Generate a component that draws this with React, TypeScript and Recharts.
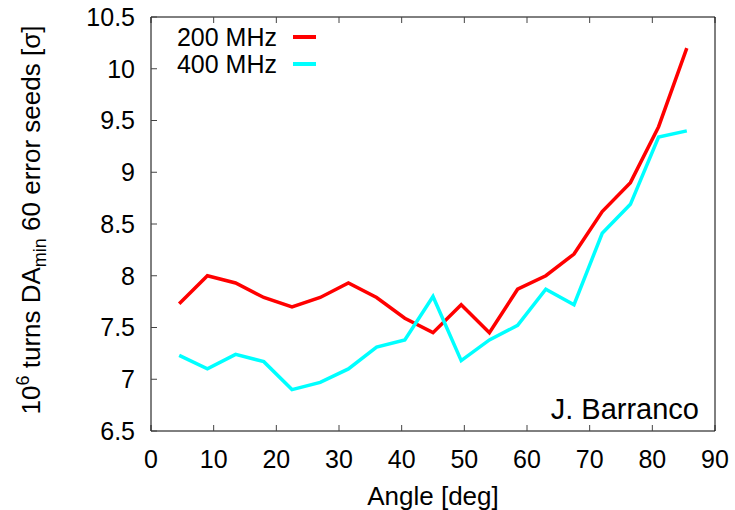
import { LineChart, Line, XAxis, YAxis } from 'recharts';

// angle of the scan [deg]
const angles = [4.5, 9, 13.5, 18, 22.5, 27, 31.5, 36, 40.5, 45, 49.5, 54, 58.5, 63, 67.5, 72, 76.5, 81, 85.5];
// minimum DA over 60 error seeds [sigma]
const da200 = [7.73, 8.0, 7.93, 7.79, 7.7, 7.79, 7.93, 7.79, 7.59, 7.45, 7.72, 7.45, 7.87, 8.0, 8.21, 8.62, 8.9, 9.44, 10.2];
const da400 = [7.23, 7.1, 7.24, 7.17, 6.9, 6.97, 7.1, 7.31, 7.38, 7.8, 7.18, 7.38, 7.52, 7.87, 7.72, 8.41, 8.69, 9.34, 9.4];

const xTicks = [0, 10, 20, 30, 40, 50, 60, 70, 80, 90];
const yTicks = [6.5, 7, 7.5, 8, 8.5, 9, 9.5, 10, 10.5];

const SERIES = [
  { key: 'mhz200', name: '200 MHz', color: '#ff0000' },
  { key: 'mhz400', name: '400 MHz', color: '#00ffff' },
];

const data = angles.map((angle, i) => ({ angle, mhz200: da200[i], mhz400: da400[i] }));

const FONT = '"Liberation Sans", Arial, Helvetica, sans-serif';
const tickStyle = { fontSize: 25, fontFamily: FONT, fill: '#000' };

function YLabel({ viewBox }: any) {
  const cy = viewBox.y + viewBox.height / 2 - 4;
  return (
    <text
      transform={`translate(40,${cy}) rotate(-90)`}
      textAnchor="middle"
      fontSize={26}
      fontFamily={FONT}
      fill="#000"
    >
      <tspan>10</tspan>
      <tspan dy={-11} fontSize={18}>6</tspan>
      <tspan dy={11}> turns DA</tspan>
      <tspan dy={6} fontSize={18}>min</tspan>
      <tspan dy={-6}> 60 error seeds [σ]</tspan>
    </text>
  );
}

function XLabel({ viewBox }: any) {
  return (
    <text
      x={viewBox.x + viewBox.width / 2}
      y={viewBox.y + 74}
      textAnchor="middle"
      fontSize={26}
      fontFamily={FONT}
      fill="#000"
    >
      Angle [deg]
    </text>
  );
}

export default function App() {
  return (
    <div style={{ position: 'absolute', left: 0, top: 0, width: 735, height: 510, background: '#fff' }}>
      <LineChart width={735} height={510} data={data} margin={{ top: 16, right: 19, bottom: 39, left: 71 }}>
        <XAxis
          dataKey="angle"
          type="number"
          domain={[0, 90]}
          ticks={xTicks}
          interval={0}
          tickSize={-6}
          tickMargin={25}
          height={40}
          tick={tickStyle}
          axisLine={{ stroke: '#000', strokeWidth: 1 }}
          tickLine={{ stroke: '#444', strokeWidth: 1 }}
          label={<XLabel />}
        />
        <XAxis
          xAxisId="top"
          orientation="top"
          dataKey="angle"
          type="number"
          domain={[0, 90]}
          ticks={xTicks}
          interval={0}
          tickSize={-6}
          height={1}
          tickFormatter={() => ''}
          axisLine={{ stroke: '#000', strokeWidth: 1 }}
          tickLine={{ stroke: '#444', strokeWidth: 1 }}
        />
        <YAxis
          type="number"
          domain={[6.5, 10.5]}
          ticks={yTicks}
          interval={0}
          tickSize={-6}
          tickMargin={22}
          width={80}
          tick={tickStyle}
          axisLine={{ stroke: '#000', strokeWidth: 1 }}
          tickLine={{ stroke: '#444', strokeWidth: 1 }}
          label={<YLabel />}
        />
        <YAxis
          yAxisId="right"
          orientation="right"
          type="number"
          domain={[6.5, 10.5]}
          ticks={yTicks}
          interval={0}
          tickSize={-6}
          width={1}
          tickFormatter={() => ''}
          axisLine={{ stroke: '#000', strokeWidth: 1 }}
          tickLine={{ stroke: '#444', strokeWidth: 1 }}
        />
        {SERIES.map((s) => (
          <Line
            key={s.key}
            dataKey={s.key}
            name={s.name}
            type="linear"
            stroke={s.color}
            strokeWidth={3.5}
            strokeLinejoin="miter"
            dot={false}
            activeDot={false}
            isAnimationActive={false}
          />
        ))}
      </LineChart>

      {/* legend, gnuplot style: right-aligned names, sample line after */}
      <div style={{ position: 'absolute', left: 150, top: 24, fontFamily: FONT, fontSize: 25 }}>
        {SERIES.map((s) => (
          <div key={s.key} style={{ display: 'flex', alignItems: 'center', height: 26.5, lineHeight: '22px' }}>
            <span style={{ width: 127, textAlign: 'right', whiteSpace: 'nowrap' }}>{s.name}</span>
            <span style={{ width: 23, height: 4, background: s.color, marginLeft: 16 }} />
          </div>
        ))}
      </div>

      <div
        style={{
          position: 'absolute',
          right: 36,
          top: 395,
          fontFamily: FONT,
          fontSize: 29,
          lineHeight: '29px',
          whiteSpace: 'nowrap',
        }}
      >
        J. Barranco
      </div>
    </div>
  );
}
